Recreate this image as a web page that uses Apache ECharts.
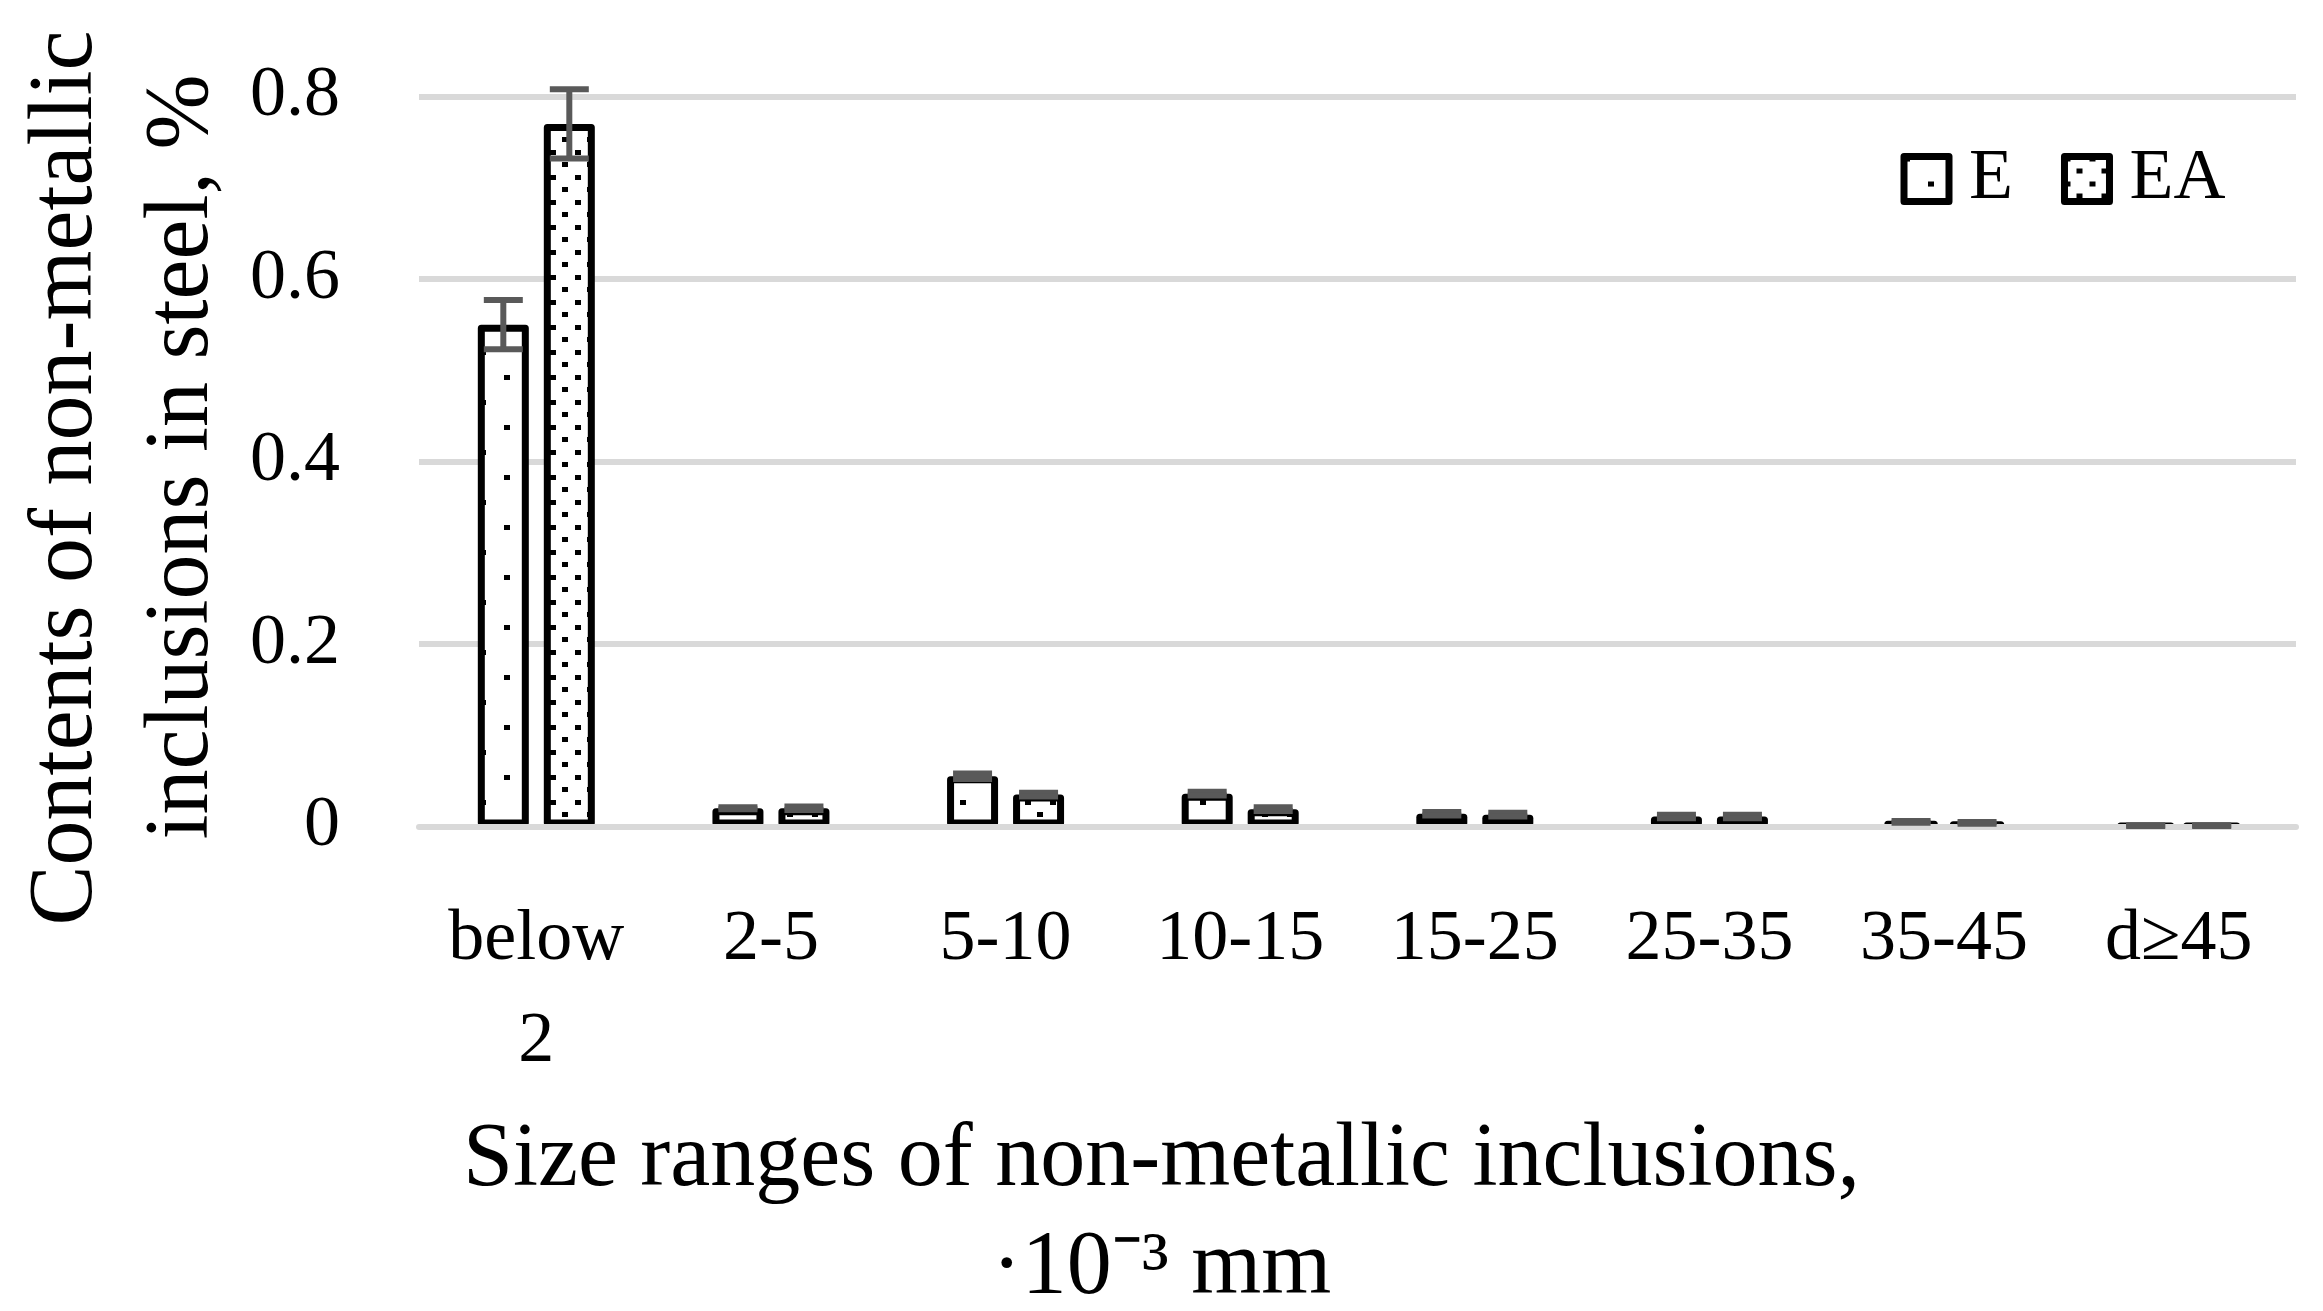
<!DOCTYPE html>
<html>
<head>
<meta charset="utf-8">
<script src="https://cdn.jsdelivr.net/npm/echarts@6/dist/echarts.min.js"></script>
<style>
html,body{margin:0;padding:0;background:#fff;}
#chart{width:2323px;height:1311px;}
</style>
</head>
<body>
<div id="chart"></div>
<script>
const categories = ['below 2', '2-5', '5-10', '10-15', '15-25', '25-35', '35-45', 'd≥45'];
const valuesE  = [0.55, 0.02, 0.055, 0.036, 0.014, 0.011, 0.005, 0.001];
const valuesEA = [0.77, 0.02, 0.035, 0.019, 0.013, 0.011, 0.004, 0.001];
const errE  = [0.027, 0.001, 0.003, 0.002, 0.002, 0.002, 0.001, 0.0005];
const errEA = [0.038, 0.002, 0.002, 0.002, 0.002, 0.002, 0.001, 0.0005];
const yTicks = { min: 0, max: 0.8, interval: 0.2 };
const seriesNames = ['E', 'EA'];
const xTitle = 'Size ranges of non-metallic inclusions,\n·10⁻³ mm';
const yTitleLines = ['Contents of non-metallic', 'inclusions in steel, %'];

const FONT = 'Liberation Serif';
const BAR_W = 51, BAR_GAP = 15;
const OFFSET = (BAR_W + BAR_GAP) / 2;

function pattern(w, h, dots) {
  const c = document.createElement('canvas');
  c.width = w; c.height = h;
  const g = c.getContext('2d');
  g.fillStyle = '#fff'; g.fillRect(0, 0, w, h);
  g.fillStyle = '#000';
  dots.forEach(d => g.fillRect(d[0], d[1], 6, 5));
  return c;
}
const patE = pattern(48, 50, [[0, 0], [24, 25]]);
const patEA = pattern(25, 25, [[0, 0], [12, 12]]);

function errRenderer(offset) {
  return function (params, api) {
    const i = api.value(0), v = api.value(1), e = api.value(2);
    const top = api.coord([i, v + e]);
    const bot = api.coord([i, v - e]);
    const x = top[0] + offset;
    const st = { stroke: '#595959', lineWidth: 6 };
    return {
      type: 'group',
      children: [
        { type: 'line', shape: { x1: x, y1: top[1], x2: x, y2: bot[1] }, style: st },
        { type: 'line', shape: { x1: x - 19.5, y1: top[1], x2: x + 19.5, y2: top[1] }, style: st },
        { type: 'line', shape: { x1: x - 19.5, y1: bot[1], x2: x + 19.5, y2: bot[1] }, style: st }
      ]
    };
  };
}

const chart = echarts.init(document.getElementById('chart'));
chart.setOption({
  backgroundColor: '#fff',
  animation: false,
  textStyle: { fontFamily: FONT, color: '#000' },
  grid: { left: 419, right: 27, top: 96.5, bottom: 484.5 },
  title: {
    text: xTitle,
    left: 1161.5,
    top: 1107,
    textAlign: 'center',
    padding: 0,
    textStyle: { fontFamily: FONT, fontSize: 90, lineHeight: 108, fontWeight: 'normal', color: '#000' }
  },
  graphic: [
    {
      type: 'text', x: 67, y: 478, rotation: Math.PI / 2,
      style: { text: yTitleLines[0], font: '90px "Liberation Serif"', fill: '#000', textAlign: 'center', textVerticalAlign: 'middle' }
    },
    {
      type: 'text', x: 183, y: 457, rotation: Math.PI / 2,
      style: { text: yTitleLines[1], font: '90px "Liberation Serif"', fill: '#000', textAlign: 'center', textVerticalAlign: 'middle' }
    }
  ],
  legend: {
    data: seriesNames,
    left: 1895.5,
    top: 138,
    icon: 'rect',
    itemWidth: 45,
    itemHeight: 45,
    itemGap: 48,
    itemStyle: { borderColor: '#000', borderWidth: 7, borderJoin: 'round' },
    textStyle: { fontFamily: FONT, fontSize: 72, color: '#000', lineHeight: 72, padding: [0, 0, 0, 15] }
  },
  xAxis: {
    type: 'category',
    data: categories,
    z: 5,
    axisLine: { show: true, lineStyle: { color: '#d9d9d9', width: 6 } },
    axisTick: { show: false },
    axisLabel: {
      interval: 0,
      margin: 63,
      fontFamily: FONT,
      fontSize: 72,
      lineHeight: 102,
      color: '#000',
      formatter: v => v.replace(' ', '\n')
    }
  },
  yAxis: {
    type: 'value',
    min: yTicks.min,
    max: yTicks.max,
    interval: yTicks.interval,
    axisLine: { show: false },
    axisTick: { show: false },
    splitLine: { show: true, lineStyle: { color: '#d9d9d9', width: 6 } },
    axisLabel: { margin: 79, fontFamily: FONT, fontSize: 72, color: '#000' }
  },
  series: [
    {
      name: 'E', type: 'bar', data: valuesE,
      barWidth: BAR_W, barGap: (BAR_GAP / BAR_W * 100).toFixed(1) + '%',
      itemStyle: { color: { image: patE, repeat: 'repeat' }, borderColor: '#000', borderWidth: 7, borderJoin: 'round' }
    },
    {
      name: 'EA', type: 'bar', data: valuesEA,
      barWidth: BAR_W,
      itemStyle: { color: { image: patEA, repeat: 'repeat' }, borderColor: '#000', borderWidth: 7, borderJoin: 'round' }
    },
    {
      name: 'E err', type: 'custom', z: 6, clip: false,
      renderItem: errRenderer(-OFFSET),
      encode: { x: 0, y: 1 },
      data: valuesE.map((v, i) => [i, v, errE[i]])
    },
    {
      name: 'EA err', type: 'custom', z: 6, clip: false,
      renderItem: errRenderer(OFFSET),
      encode: { x: 0, y: 1 },
      data: valuesEA.map((v, i) => [i, v, errEA[i]])
    }
  ]
});
</script>
</body>
</html>
